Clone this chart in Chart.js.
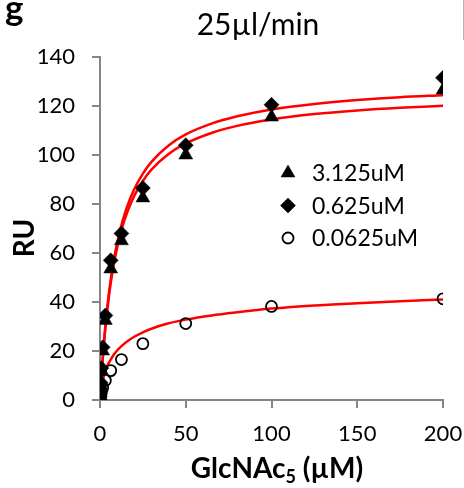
<!DOCTYPE html>
<html lang="en">
<head>
    <meta charset="UTF-8">
    <title>25µl/min binding</title>
    <script src="https://cdn.jsdelivr.net/npm/chart.js"></script>
    <style>
        body { margin: 0; background: #fff; }
        canvas { display: block; }
    </style>
</head>
<body>
    <canvas id="chart" width="464" height="488"></canvas>

    <script>
        // GlcNAc5 concentrations (µM) used for every series
        const concentrations = [0, 0.195, 0.39, 0.78, 1.56, 3.125, 6.25, 12.5, 25, 50, 100, 200];

        // measured response (RU) per protein concentration
        const ru3125 = [0, 3, 6, 12, 20, 32.5, 53.5, 65, 82.5, 100, 115.5, 126.5];
        const ru0625 = [0, 3.5, 7, 13, 21.5, 34.5, 57, 68, 86.5, 104, 120.5, 131.5];
        const ru00625 = [0, 0.5, 1.5, 3, 5, 8, 12, 16.5, 23, 31.2, 38.2, 41.3];

        // fitted binding curves, sampled along x
        const fitX = [0, 0.5, 1, 2, 3, 4, 6, 8, 10, 13, 16, 20, 25, 30, 40, 50, 65, 80, 100, 125, 150, 175, 200];
        const fit0625 = [0, 6.0, 11.5, 21.1, 29.3, 36.4, 47.9, 56.9, 64.2, 72.7, 79.3, 86.1, 92.4, 97.2, 103.9, 108.4, 112.8, 115.8, 118.6, 120.8, 122.4, 123.6, 124.4];
        const fit3125 = [0, 5.9, 11.2, 20.5, 28.5, 35.3, 46.5, 55.2, 62.2, 70.5, 76.8, 83.4, 89.4, 94.0, 100.4, 104.7, 109.0, 111.9, 114.5, 116.7, 118.2, 119.3, 120.1];
        const fit00625 = [0, 3, 5.5, 9, 11.5, 13.5, 16.2, 18.5, 20.2, 22.3, 24, 25.8, 27.6, 29.1, 31.3, 32.8, 34.5, 35.8, 37.3, 38.6, 39.5, 40.3, 41];

        const xTicks = [0, 50, 100, 150, 200];
        const yTicks = [0, 20, 40, 60, 80, 100, 120, 140];

        const legendLabels = ['3.125uM', '0.625uM', '0.0625uM'];

        const AXIS = '#868686';
        const RED = '#ff0000';
        const FONT = 'Lato, "Open Sans", sans-serif';

        const pts = (xs, ys) => xs.map((x, i) => ({ x: x, y: ys[i] }));

        const pointSet = (label, ys, style, radius, fill) => ({
            label: label,
            data: pts(concentrations, ys),
            showLine: false,
            pointStyle: style,
            pointRadius: radius,
            pointBackgroundColor: fill,
            pointBorderColor: '#000',
            pointBorderWidth: style === 'circle' ? 1.8 : 0.5
        });

        const curveSet = ys => ({
            label: '',
            data: pts(fitX, ys),
            showLine: true,
            borderColor: RED,
            borderWidth: 2.5,
            pointRadius: 0,
            cubicInterpolationMode: 'monotone',
            fill: false
        });

        // title, legend rows, axis titles and panel letter drawn straight on the canvas
        const extras = {
            id: 'extras',
            afterDraw(chart) {
                const ctx = chart.ctx;
                ctx.save();
                ctx.fillStyle = '#000';

                // panel letter
                ctx.font = 'bold 35px ' + FONT;
                ctx.textBaseline = 'alphabetic';
                ctx.textAlign = 'left';
                ctx.fillText('g', 5, 20);

                // chart title
                ctx.font = '30px ' + FONT;
                ctx.textAlign = 'center';
                ctx.textBaseline = 'middle';
                ctx.fillText('25µl/min', 258, 25);
                ctx.textAlign = 'left';

                // thin frame edge at the top right
                ctx.strokeStyle = '#b4b4b4';
                ctx.lineWidth = 1;
                ctx.beginPath();
                ctx.moveTo(463.5, 0);
                ctx.lineTo(463.5, 40);
                ctx.stroke();

                // legend
                const rows = [173, 205.5, 238];
                ctx.font = '23px ' + FONT;
                ctx.textBaseline = 'middle';
                chart.data.datasets.slice(0, 3).forEach((ds, i) => {
                    ctx.fillStyle = ds.pointBackgroundColor;
                    ctx.strokeStyle = '#000';
                    ctx.lineWidth = ds.pointBorderWidth;
                    Chart.helpers.drawPoint(ctx, {
                        pointStyle: ds.pointStyle,
                        radius: ds.pointRadius,
                        borderWidth: ds.pointBorderWidth,
                        rotation: 0
                    }, 288, rows[i]);
                    ctx.fillStyle = '#000';
                    ctx.fillText(legendLabels[i], 312, rows[i] + 1);
                });

                // x axis title with subscript
                ctx.textBaseline = 'alphabetic';
                const big = 'bold 28px ' + FONT;
                const small = 'bold 18px ' + FONT;
                ctx.font = big;
                const w1 = ctx.measureText('GlcNAc').width;
                const w3 = ctx.measureText(' (µM)').width;
                ctx.font = small;
                const w2 = ctx.measureText('5').width;
                let x = 277 - (w1 + w2 + w3) / 2;
                const base = 478;
                ctx.font = big;
                ctx.fillText('GlcNAc', x, base);
                x += w1;
                ctx.font = small;
                ctx.fillText('5', x, base + 5);
                x += w2;
                ctx.font = big;
                ctx.fillText(' (µM)', x, base);

                // y axis title
                ctx.translate(25, 238);
                ctx.rotate(-Math.PI / 2);
                ctx.textAlign = 'center';
                ctx.textBaseline = 'middle';
                ctx.font = 'bold 28px ' + FONT;
                ctx.fillText('RU', 0, 0);
                ctx.restore();
            }
        };

        const tickFont = { family: FONT, size: 22 };

        new Chart(document.getElementById('chart'), {
            type: 'scatter',
            data: {
                datasets: [
                    pointSet(legendLabels[0], ru3125, 'triangle', 8, '#000'),
                    pointSet(legendLabels[1], ru0625, 'rectRot', 7.5, '#000'),
                    pointSet(legendLabels[2], ru00625, 'circle', 5.5, 'transparent'),
                    curveSet(fit0625),
                    curveSet(fit3125),
                    curveSet(fit00625)
                ]
            },
            options: {
                responsive: false,
                animation: false,
                events: [],
                layout: { padding: { top: 57, right: 21, bottom: 0, left: 0 } },
                plugins: {
                    legend: { display: false },
                    tooltip: { enabled: false },
                    title: { display: false }
                },
                scales: {
                    x: {
                        type: 'linear',
                        min: 0,
                        max: 200,
                        afterBuildTicks: s => { s.ticks = xTicks.map(v => ({ value: v })); },
                        afterFit: s => {
                            s.height = 88;
                            s.paddingLeft = 0;
                            s.paddingRight = 0;
                        },
                        ticks: { color: '#000', font: tickFont, padding: 13, maxRotation: 0 },
                        grid: { drawOnChartArea: false, tickLength: 8, color: AXIS, lineWidth: 2 },
                        border: { color: AXIS, width: 2 }
                    },
                    y: {
                        min: 0,
                        max: 140,
                        afterBuildTicks: s => { s.ticks = yTicks.map(v => ({ value: v })); },
                        afterFit: s => {
                            s.width = 100;
                            s.paddingTop = 0;
                            s.paddingBottom = 0;
                        },
                        ticks: { color: '#000', font: tickFont, padding: 17 },
                        grid: { drawOnChartArea: false, tickLength: 8, color: AXIS, lineWidth: 2 },
                        border: { color: AXIS, width: 2 }
                    }
                }
            },
            plugins: [extras]
        });
    </script>
</body>
</html>
